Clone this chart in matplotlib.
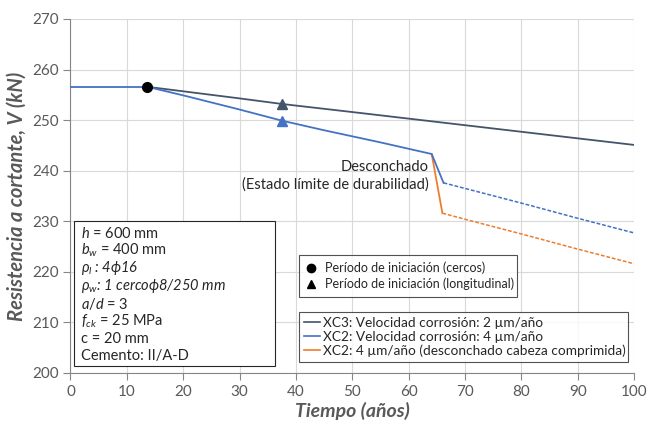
import matplotlib
matplotlib.use("Agg")
import matplotlib.pyplot as plt
from matplotlib.lines import Line2D
from matplotlib.patches import Rectangle

plt.rcParams['font.family'] = ['Lato', 'DejaVu Sans']
plt.rcParams['mathtext.fontset'] = 'custom'
plt.rcParams['mathtext.rm'] = 'Lato'
plt.rcParams['mathtext.it'] = 'Lato:italic'
plt.rcParams['mathtext.bf'] = 'Lato:bold'

# ---- data ----
t_init = [0, 13.6]
v_init = [256.6, 256.6]

t_xc3 = [13.6, 20, 30, 37.5, 50, 60, 70, 80, 90, 100]
v_xc3 = [256.6, 255.7, 254.3, 253.2, 251.6, 250.3, 249.0, 247.7, 246.4, 245.1]

t_xc2 = [13.6, 20, 30, 37.5, 45, 55, 64.1, 66.2]
v_xc2 = [256.6, 254.9, 252.1, 249.9, 248.0, 245.6, 243.3, 237.6]
t_xc2_d = [66.2, 70, 80, 90, 100]
v_xc2_d = [237.6, 236.5, 233.6, 230.6, 227.7]

t_sp = [64.1, 66.0]
v_sp = [243.3, 231.6]
t_sp_d = [66.0, 70, 80, 90, 100]
v_sp_d = [231.6, 230.4, 227.5, 224.5, 221.6]

t_stirrup, v_stirrup = 13.6, 256.6
t_long = [37.5, 37.5]
v_long = [253.2, 249.9]

x_ticks = list(range(0, 101, 10))
y_ticks = list(range(200, 271, 10))

params = [(r"$h$ = 600 mm", 'normal'), (r"$b_w$ = 400 mm", 'normal'),
          (r"$\rho_l$ : 4ϕ16", 'italic'),
          (r"$\rho_w$: 1 cercoϕ8/250 mm", 'italic'), (r"$a/d$ = 3", 'normal'),
          (r"$f_{ck}$ = 25 MPa", 'normal'), ("c = 20 mm", 'normal'),
          ("Cemento: II/A-D", 'normal')]

c_gray = '#44546A'
c_blue = '#4472C4'
c_orange = '#ED7D31'
c_text = '#595959'

fig = plt.figure(figsize=(6.49, 4.25), dpi=100)
ax = fig.add_axes([0.1086, 0.1224, 0.8683, 0.8329])

ax.plot(t_init, v_init, color=c_blue, lw=1.3, zorder=4)
ax.plot(t_xc3, v_xc3, color=c_gray, lw=1.3, zorder=4)
ax.plot(t_sp, v_sp, color=c_orange, lw=1.3, zorder=3)
ax.plot(t_sp_d, v_sp_d, color=c_orange, lw=1.1, ls=(0, (2.5, 1.2)), zorder=3)
ax.plot(t_xc2, v_xc2, color=c_blue, lw=1.3, zorder=4)
ax.plot(t_xc2_d, v_xc2_d, color=c_blue, lw=1.1, ls=(0, (2.5, 1.2)), zorder=4)

ax.plot([t_stirrup], [v_stirrup], 'o', color='black', ms=7, zorder=5)
ax.plot([t_long[0]], [v_long[0]], '^', color=c_gray, ms=7, zorder=5)
ax.plot([t_long[1]], [v_long[1]], '^', color=c_blue, ms=7, zorder=5)

ax.set_xlim(0, 100)
ax.set_ylim(200, 270)
ax.set_xticks(x_ticks)
ax.set_yticks(y_ticks)
ax.grid(True, color='#D9D9D9', lw=0.8)
ax.set_axisbelow(True)
for s in ['top', 'right']:
    ax.spines[s].set_visible(False)
for s in ['left', 'bottom']:
    ax.spines[s].set_color('#868686')
ax.tick_params(colors='#868686', labelcolor=c_text, labelsize=11, length=5, direction='out')

ax.set_xlabel('Tiempo (años)', fontsize=14, fontweight='bold', fontstyle='italic', color=c_text, labelpad=2)
ax.set_ylabel('Resistencia a cortante, V (kN)', fontsize=14.5, fontweight='bold', fontstyle='italic', color=c_text, labelpad=4)

ax.text(63.5, 240.8, 'Desconchado', ha='right', va='center', fontsize=10.5, color='#262626')
ax.text(63.5, 237.3, '(Estado límite de durabilidad)', ha='right', va='center', fontsize=10.5, color='#262626')

# parameter box
ax.add_patch(Rectangle((0.006, 0.02), 0.357, 0.409, transform=ax.transAxes,
                       fill=True, facecolor='white', edgecolor='#262626', lw=0.8, zorder=6))
y0 = 0.395
for i, (s, st) in enumerate(params):
    ax.text(0.018, y0 - i * 0.0497, s, transform=ax.transAxes, fontsize=10.5,
            va='center', ha='left', color='#262626', zorder=7, fontstyle=st)

# marker legend
h1 = [Line2D([], [], marker='o', color='black', ls='none', ms=6),
      Line2D([], [], marker='^', color='black', ls='none', ms=6)]
leg1 = ax.legend(h1, ['Período de iniciación (cercos)', 'Período de iniciación (longitudinal)'],
                 loc='lower left', bbox_to_anchor=(0.4055, 0.215, 0.3865, 0.121), mode='expand',
                 fontsize=9.0, frameon=True, fancybox=False, edgecolor='#262626',
                 handlelength=0.8, handletextpad=0.7, borderaxespad=0, labelspacing=0.25,
                 borderpad=0.55, labelcolor='#262626')
leg1.get_frame().set_linewidth(0.8)
ax.add_artist(leg1)

h2 = [Line2D([], [], color=c_gray, lw=1.2),
      Line2D([], [], color=c_blue, lw=1.2),
      Line2D([], [], color=c_orange, lw=1.2)]
leg2 = ax.legend(h2, ['XC3: Velocidad corrosión: 2 µm/año', 'XC2: Velocidad corrosión: 4 µm/año',
                      'XC2: 4 µm/año (desconchado cabeza comprimida)'],
                 loc='lower left', bbox_to_anchor=(0.4055, 0.031, 0.5835, 0.158), mode='expand',
                 fontsize=9.8, frameon=True, fancybox=False, edgecolor='#262626',
                 handlelength=1.2, handletextpad=0.2, borderaxespad=0, labelspacing=0.15,
                 borderpad=0.35, labelcolor='#262626')
leg2.get_frame().set_linewidth(0.8)

fig.savefig('out.png', dpi=100)
